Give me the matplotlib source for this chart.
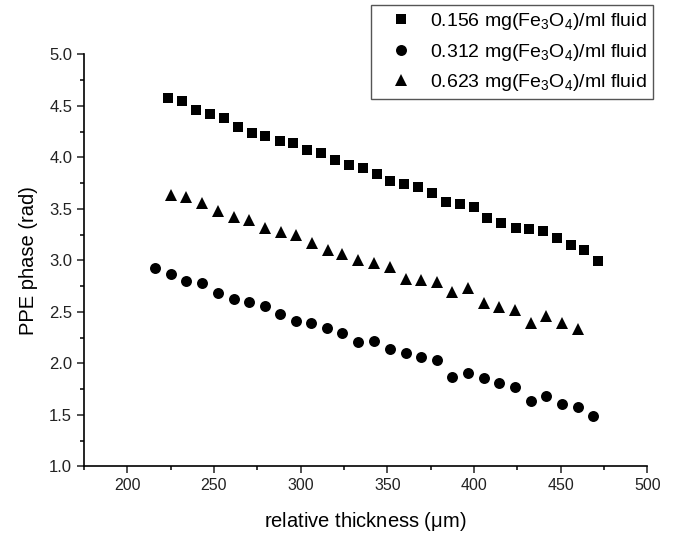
import matplotlib.pyplot as plt
from matplotlib.ticker import MultipleLocator

plt.rcParams['font.family'] = ['Liberation Sans', 'DejaVu Sans']
plt.rcParams['mathtext.fontset'] = 'custom'
plt.rcParams['mathtext.rm'] = 'Liberation Sans'
plt.rcParams['mathtext.it'] = 'Liberation Sans'

# 0.156 mg/ml
x_sq = [223.4, 231.8, 239.8, 247.5, 255.6, 263.7, 271.8, 279.4, 287.9, 295.6,
        303.7, 311.8, 319.9, 327.8, 336.0, 343.9, 351.8, 359.5, 367.8, 375.9,
        383.8, 391.9, 399.9, 407.6, 415.7, 424.0, 431.9, 439.6, 448.0, 455.9,
        463.6, 471.7]
y_sq = [4.575, 4.549, 4.461, 4.422, 4.381, 4.299, 4.241, 4.212, 4.160, 4.138,
        4.070, 4.041, 3.976, 3.927, 3.898, 3.840, 3.772, 3.740, 3.717, 3.652,
        3.565, 3.549, 3.517, 3.416, 3.361, 3.318, 3.303, 3.289, 3.216, 3.150,
        3.102, 2.995]

# 0.312 mg/ml
x_ci = [215.8, 225.1, 234.1, 243.1, 252.3, 261.4, 270.2, 279.3, 288.3, 297.2,
        306.2, 315.2, 324.1, 333.1, 342.4, 351.5, 360.5, 369.7, 378.4, 387.4,
        396.7, 405.7, 414.5, 423.6, 432.9, 441.5, 450.9, 459.8, 468.5]
y_ci = [2.924, 2.869, 2.804, 2.784, 2.687, 2.629, 2.594, 2.561, 2.481, 2.413,
        2.396, 2.342, 2.299, 2.212, 2.218, 2.138, 2.099, 2.060, 2.034, 1.872,
        1.911, 1.856, 1.808, 1.769, 1.636, 1.684, 1.604, 1.575, 1.490]

# 0.623 mg/ml
x_tr = [225.0, 234.1, 243.1, 252.3, 261.4, 270.0, 279.3, 288.5, 297.2, 306.6,
        315.5, 324.1, 333.1, 342.4, 351.5, 360.5, 369.3, 378.4, 387.4, 396.7,
        405.7, 414.5, 423.6, 432.9, 441.5, 450.9, 459.8]
y_tr = [3.636, 3.614, 3.555, 3.481, 3.425, 3.393, 3.318, 3.280, 3.248, 3.173,
        3.102, 3.060, 3.005, 2.979, 2.940, 2.817, 2.811, 2.795, 2.692, 2.731,
        2.584, 2.552, 2.519, 2.390, 2.461, 2.396, 2.332]

labels = [r'0.156 mg(Fe$_3$O$_4$)/ml fluid',
          r'0.312 mg(Fe$_3$O$_4$)/ml fluid',
          r'0.623 mg(Fe$_3$O$_4$)/ml fluid']

fig = plt.figure(figsize=(6.73, 5.38), dpi=100)
ax = fig.add_axes([0.1248, 0.1329, 0.837, 0.7658])

ax.plot(x_sq, y_sq, 's', c='k', ms=6.8, mew=0, label=labels[0])
ax.plot(x_ci, y_ci, 'o', c='k', ms=7.9, mew=0, label=labels[1])
ax.plot(x_tr, y_tr, '^', c='k', ms=8.8, mew=0, label=labels[2])

ax.set_xlim(175, 500)
ax.set_ylim(1.0, 5.0)
ax.xaxis.set_major_locator(MultipleLocator(50))
ax.xaxis.set_minor_locator(MultipleLocator(25))
ax.yaxis.set_major_locator(MultipleLocator(0.5))
ax.yaxis.set_minor_locator(MultipleLocator(0.25))
ax.yaxis.set_major_formatter(plt.FormatStrFormatter('%.1f'))
ax.tick_params(which='major', direction='out', length=5, width=1.1, labelsize=11.5, colors='#222222')
ax.tick_params(axis='y', which='major', labelsize=12)
ax.tick_params(which='minor', direction='out', length=3, width=1.1)
for s in ['top', 'right']:
    ax.spines[s].set_visible(False)
for s in ['left', 'bottom']:
    ax.spines[s].set_linewidth(1.2)

ax.set_xlabel(r'relative thickness ($\mu$m)', fontsize=14.5, labelpad=12)
ax.set_ylabel('PPE phase (rad)', fontsize=14.5, labelpad=8)

leg = fig.legend(loc='upper right', bbox_to_anchor=(0.9703, 0.9907), borderaxespad=0,
                 fontsize=14, fancybox=False, framealpha=1, edgecolor='#555555',
                 handletextpad=0.25, borderpad=0.3, labelspacing=0.5, handlelength=2.5)
leg.get_frame().set_linewidth(1.0)

fig.savefig('out.png', dpi=100)
